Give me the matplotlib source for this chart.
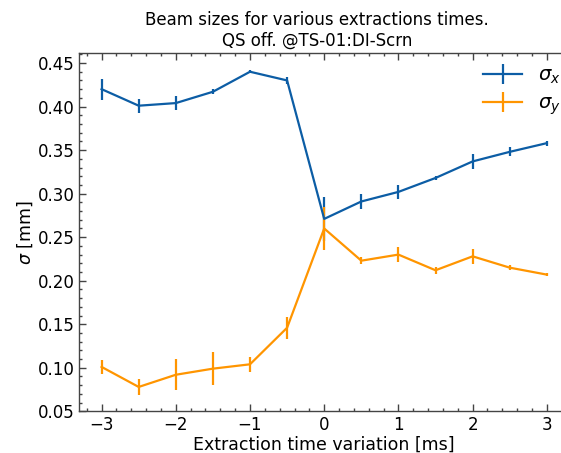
import numpy as np
import matplotlib
matplotlib.use("Agg")
import matplotlib.pyplot as plt
from matplotlib.ticker import AutoMinorLocator, MultipleLocator

# extraction time offsets [ms]
t = [-3, -2.5, -2, -1.5, -1, -0.5, 0, 0.5, 1, 1.5, 2, 2.5, 3]

sigma_x = [0.420, 0.401, 0.404, 0.417, 0.440, 0.430, 0.271, 0.291, 0.302, 0.318, 0.337, 0.348, 0.358]
sigma_x_err = [0.012, 0.008, 0.0085, 0.003, 0.002, 0.004, 0.025, 0.0085, 0.008, 0.002, 0.0087, 0.005, 0.003]

sigma_y = [0.101, 0.078, 0.092, 0.099, 0.104, 0.146, 0.260, 0.223, 0.230, 0.212, 0.228, 0.215, 0.207]
sigma_y_err = [0.008, 0.009, 0.018, 0.019, 0.0083, 0.0125, 0.025, 0.004, 0.009, 0.004, 0.0085, 0.003, 0.002]

plt.rcParams['font.family'] = ['DejaVu Sans']
plt.rcParams['mathtext.fontset'] = 'dejavusans'

fig = plt.figure(figsize=(5.61, 4.53), dpi=100)
# the original image is cropped on the right, so the axes run past the edge
ax = fig.add_axes([0.1414, 0.092, 0.873, 0.790])

ax.errorbar(t, sigma_x, yerr=sigma_x_err, color='#0C5DA5', lw=1.6, elinewidth=1.6, capsize=0, label=r'$\sigma_x$')
ax.errorbar(t, sigma_y, yerr=sigma_y_err, color='#FF9500', lw=1.6, elinewidth=1.6, capsize=0, label=r'$\sigma_y$')

ax.set_xlim(-3.3, 3.3)
ax.set_ylim(0.05, 0.461)
ax.xaxis.set_major_locator(MultipleLocator(1))
ax.yaxis.set_major_locator(MultipleLocator(0.05))
ax.xaxis.set_minor_locator(AutoMinorLocator(5))
ax.yaxis.set_minor_locator(AutoMinorLocator(5))
ax.tick_params(which='both', direction='in', top=True, right=False, labelsize=12, color='#444444')
ax.tick_params(which='major', length=5, width=1)
ax.tick_params(which='minor', length=2.5, width=1)
for s in ax.spines.values():
    s.set_linewidth(1)
    s.set_color('#444444')
ax.spines['right'].set_visible(False)

ax.set_xlabel('Extraction time variation [ms]', fontsize=12.5, labelpad=1)
ax.set_ylabel(r'$\sigma$ [mm]', fontsize=12.5, labelpad=2)
fig.text(317 / 561, 1 - 50 / 453, 'Beam sizes for various extractions times.\nQS off. @TS-01:DI-Scrn',
         fontsize=12, ha='center', va='bottom', multialignment='center', linespacing=1.2)
ax.legend(loc='upper right', bbox_to_anchor=(1.018, 1.015), frameon=False, fontsize=14,
          handlelength=2, labelspacing=0.4)

fig.savefig('out.png', dpi=100)
